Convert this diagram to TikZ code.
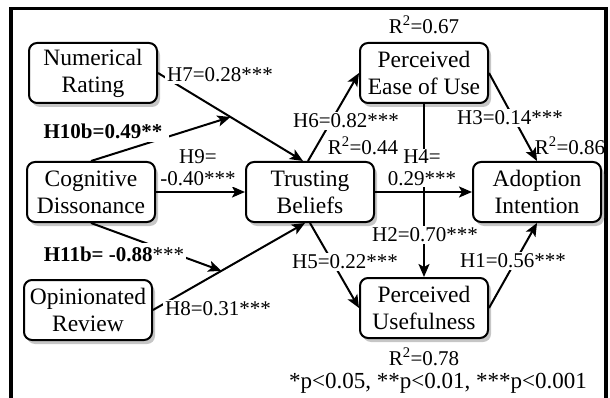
\documentclass[tikz,border=0pt]{standalone}
\usepackage{fontspec}
\setmainfont{Liberation Serif}
\usetikzlibrary{arrows.meta,shadows}
\begin{document}
\begin{tikzpicture}[x=1pt,y=-1pt,
  box/.style={draw, line width=2pt, rounded corners=8pt, fill=white,
    minimum width=128pt, minimum height=60pt, align=center, inner sep=1pt,
    font=\fontsize{23.5}{27}\selectfont,
    drop shadow={shadow xshift=3pt, shadow yshift=-4pt, fill=gray!45, opacity=1}},
  arr/.style={line width=2pt, -{Stealth[length=13pt,width=11pt,inset=3pt]}},
  lbl/.style={fill=white, inner sep=2pt, font=\fontsize{21}{22}\selectfont, align=center},
  rsq/.style={inner sep=1pt, font=\fontsize{21}{22}\selectfont},
  frameline/.style={line width=3.5pt, line join=miter}
]
\useasboundingbox (0,0) rectangle (610,398);
\draw[frameline] (11,398) -- (11,8.5) -- (606,8.5) -- (606,398);

\node[box] (NR) at (93,73) {Numerical\\Rating};
\node[box] (CD) at (91,192) {Cognitive\\Dissonance};
\node[box] (OR) at (88,310) {Opinionated\\Review};
\node[box] (TB) at (310,192) {Trusting\\Beliefs};
\node[box] (PEU) at (424,73) {Perceived\\Ease of Use};
\node[box] (AI) at (537,192) {Adoption\\Intention};
\node[box] (PU) at (424,308) {Perceived\\Usefulness};

% main paths
\draw[arr] (NR.east) -- coordinate[pos=0.5] (m7) ([xshift=-7pt]TB.north);
\draw[arr] (OR.east) -- coordinate[pos=0.45] (m8) ([xshift=-5pt]TB.south);
\draw[arr] (CD.east) -- (TB.west);
\draw[arr] (CD.north) -- (m7);
\draw[arr] (CD.south) -- (m8);
\draw[arr] ([xshift=-2pt]TB.north) -- (PEU.west);
\draw[arr] (TB.south) -- (PU.west);
\draw[arr] (TB.east) -- (AI.west);
\draw[arr] (PEU.south) -- (PU.north);
\draw[arr] (PEU.east) -- (AI.north);
\draw[arr] (PU.east) -- (AI.south);

% labels
\node[lbl] (l7) at (220,75) {H7=0.28***};
\node[lbl, inner xsep=7pt, inner ysep=4pt] (l10) at (103,131) {\textbf{H10b=0.49**}};
\node[lbl, inner sep=1pt] (l9) at (198,168) {H9=\\-0.40***};
\node[lbl, inner ysep=4pt] (l11) at (114,254) {\textbf{H11b= -0.88}***};
\node[lbl] (l8) at (218,309) {H8=0.31***};
\node[lbl] (l6) at (346,121) {H6=0.82***};
\node[lbl, inner sep=1pt] (l4) at (422,168) {H4=\\0.29***};
\node[lbl] (l3) at (510,118) {H3=0.14***};
\node[lbl] (l2) at (425,235) {H2=0.70***};
\node[lbl] (l5) at (345,262) {H5=0.22***};
\node[lbl] (l1) at (513,261) {H1=0.56***};
\node[rsq] (r44) at (363,146) {R\textsuperscript{2}=0.44};
\node[rsq] (r86) at (570,146) {R\textsuperscript{2}=0.86};
\node[rsq] (r67) at (424,25) {R\textsuperscript{2}=0.67};
\node[rsq] (r78) at (424,357) {R\textsuperscript{2}=0.78};
\node[rsq, font=\fontsize{23}{24}\selectfont] (fn) at (438,383) {*p<0.05, **p<0.01, ***p<0.001};
\end{tikzpicture}
\end{document}
